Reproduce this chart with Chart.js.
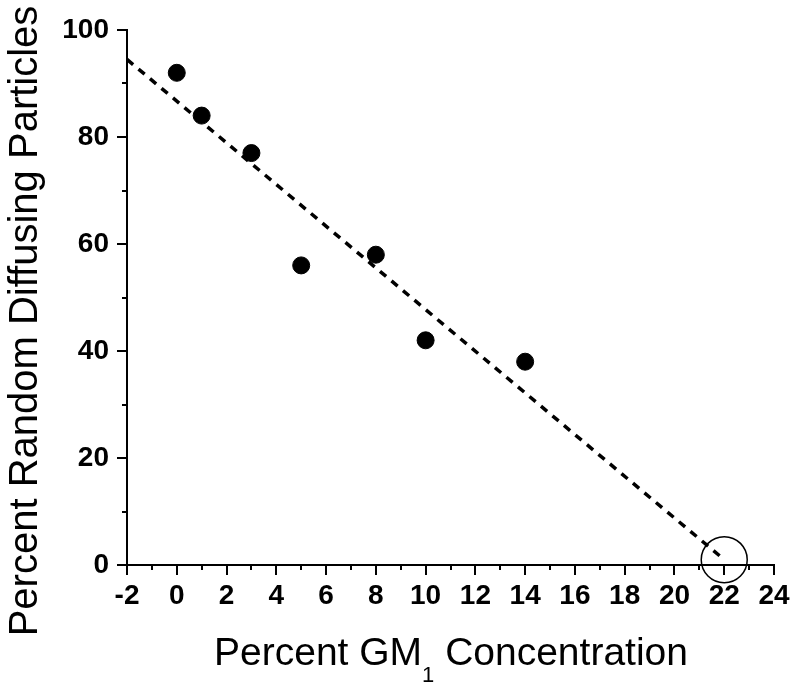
<!DOCTYPE html>
<html>
<head>
<meta charset="utf-8">
<script src="https://cdn.jsdelivr.net/npm/chart.js@4.4.0/dist/chart.umd.min.js"></script>
<style>
  body { margin: 0; background: #fff; }
  canvas { display: block; }
</style>
</head>
<body>
<canvas id="gm" width="800" height="691"></canvas>
<script>
// data
const gmConc = [0, 1, 3, 5, 8, 10, 14];
const randomPct = [92, 84, 77, 56, 58, 42, 38];
// dotted fit line end points
const fitX = [-2, 22];
const fitY = [94.5, 1];
// open circle marking the x intercept
const markX = [22];
const markY = [1];

const FONT = '"Liberation Sans", Arial, sans-serif';

// minor ticks + axis titles (GM with subscript 1)
const extras = {
  id: 'extras',
  afterDraw(chart) {
    const c = chart.ctx;
    const xs = chart.scales.x, ys = chart.scales.y;
    const a = chart.chartArea;
    c.save();
    c.strokeStyle = '#000';
    c.lineWidth = 2;
    for (let v = -1; v <= 23; v += 2) {
      const px = Math.round(xs.getPixelForValue(v));
      c.beginPath(); c.moveTo(px, a.bottom); c.lineTo(px, a.bottom + 5); c.stroke();
    }
    for (let v = 10; v <= 90; v += 20) {
      const py = Math.round(ys.getPixelForValue(v));
      c.beginPath(); c.moveTo(a.left - 5, py); c.lineTo(a.left, py); c.stroke();
    }
    c.fillStyle = '#000';
    // x title
    const big = '39px ' + FONT, small = '22px ' + FONT;
    c.font = big;
    const p1 = 'Percent GM', p3 = ' Concentration';
    const w1 = c.measureText(p1).width, w3 = c.measureText(p3).width;
    c.font = small;
    const w2 = c.measureText('1').width;
    let x = 214;
    c.textBaseline = 'alphabetic';
    c.textAlign = 'left';
    c.font = big; c.fillText(p1, x, 665); x += w1;
    c.font = small; c.fillText('1', x, 682); x += w2;
    c.font = big; c.fillText(p3, x, 665);
    // y title
    c.translate(37, 321);
    c.rotate(-Math.PI / 2);
    c.font = '40px ' + FONT;
    c.textAlign = 'center';
    c.fillText('Percent Random Diffusing Particles', 0, 0);
    c.restore();
  }
};

new Chart(document.getElementById('gm'), {
  type: 'scatter',
  data: {
    datasets: [
      {
        type: 'line',
        data: fitX.map((v, i) => ({ x: v, y: fitY[i] })),
        borderColor: '#000',
        borderWidth: 3.5,
        borderDash: [8, 7],
        pointRadius: 0,
        fill: false
      },
      {
        data: gmConc.map((v, i) => ({ x: v, y: randomPct[i] })),
        backgroundColor: '#000',
        borderColor: '#000',
        pointRadius: 8.5
      },
      {
        data: markX.map((v, i) => ({ x: v, y: markY[i] })),
        backgroundColor: 'rgba(0,0,0,0)',
        borderColor: '#000',
        borderWidth: 1.5,
        pointRadius: 23,
        clip: false
      }
    ]
  },
  options: {
    responsive: false,
    animation: false,
    layout: { padding: { top: 30, right: 26, left: 0, bottom: 0 } },
    plugins: { legend: { display: false }, tooltip: { enabled: false } },
    scales: {
      x: {
        type: 'linear',
        min: -2, max: 24,
        afterFit: (s) => { s.height = 126; },
        ticks: { stepSize: 2, color: '#000', padding: 4, maxRotation: 0,
                 font: { family: FONT, size: 28, weight: 'bold' } },
        grid: { drawOnChartArea: false, drawTicks: true, tickLength: 10,
                color: '#000', lineWidth: 2 },
        border: { display: true, color: '#000', width: 2 }
      },
      y: {
        min: 0, max: 100,
        afterFit: (s) => { s.width = 127; },
        ticks: { stepSize: 20, color: '#000', padding: 8,
                 font: { family: FONT, size: 28, weight: 'bold' } },
        grid: { drawOnChartArea: false, drawTicks: true, tickLength: 10,
                color: '#000', lineWidth: 2 },
        border: { display: true, color: '#000', width: 2 }
      }
    }
  },
  plugins: [extras]
});
</script>
</body>
</html>
